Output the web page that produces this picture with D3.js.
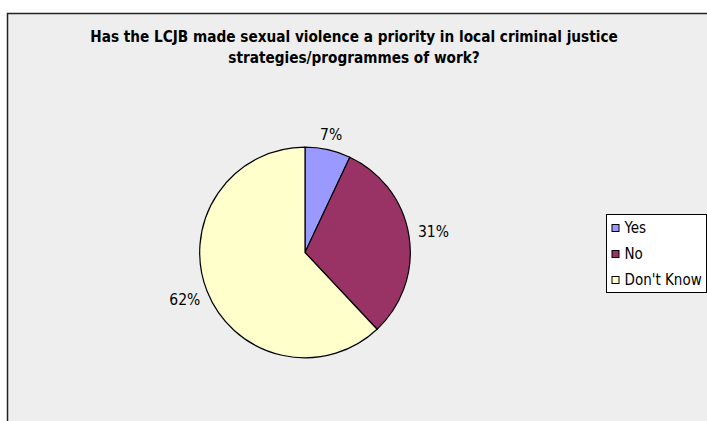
<!DOCTYPE html>
<html>
<head>
<meta charset="utf-8">
<script src="https://cdn.jsdelivr.net/npm/d3@7"></script>
<style>
  html, body { margin: 0; padding: 0; background: #ffffff; }
  svg { display: block; }
  text { font-family: "DejaVu Sans Condensed", "DejaVu Sans", sans-serif; fill: #000; }
</style>
</head>
<body>
<svg id="chart" width="707" height="421"></svg>
<script>
// Survey answers and their shares (percent)
const categories = ["Yes", "No", "Don't Know"];
const shares = [7, 31, 62];
const sliceColors = ["#9999FF", "#993366", "#FFFFCC"];
const titleLines = [
  "Has the LCJB made sexual violence a priority in local criminal justice",
  "strategies/programmes of work?"
];

const W = 707, H = 421;
const svg = d3.select("#chart");

// Chart area with its frame
svg.append("rect")
  .attr("x", 7.5).attr("y", 13.5)
  .attr("width", W + 10).attr("height", H + 10)
  .attr("fill", "#eeeeee")
  .attr("stroke", "#222").attr("stroke-width", 1.5);

// Title
const title = svg.append("text")
  .attr("text-anchor", "middle")
  .attr("font-weight", "bold")
  .attr("font-size", 15.2);
titleLines.forEach((line, i) => {
  title.append("tspan")
    .attr("x", 354)
    .attr("y", 41.5 + i * 21)
    .text(line);
});

// Pie
const cx = 305, cy = 252.5, R = 105.3;
const pie = d3.pie().sort(null).value(d => d.value);
const arcs = pie(categories.map((c, i) => ({ name: c, value: shares[i], color: sliceColors[i] })));
const arc = d3.arc().innerRadius(0).outerRadius(R);

const g = svg.append("g").attr("transform", `translate(${cx},${cy})`);
g.selectAll("path.slice")
  .data(arcs)
  .join("path")
  .attr("class", "slice")
  .attr("d", arc)
  .attr("fill", d => d.data.color)
  .attr("stroke", "#000")
  .attr("stroke-width", 1.2)
  .attr("stroke-linejoin", "round");

// Percentage labels just outside each slice
const fmt = d3.format(".0%");
const gap = 9;
const labels = g.selectAll("text.pct")
  .data(arcs)
  .join("text")
  .attr("class", "pct")
  .attr("font-size", 15.5)
  .attr("text-anchor", "middle")
  .attr("dominant-baseline", "central")
  .text(d => fmt(d.data.value / 100));

labels.each(function(d) {
  const bb = this.getBBox();
  const hw = bb.width / 2, hh = 5.5;
  const a = (d.startAngle + d.endAngle) / 2;
  const sx = Math.sin(a), sy = -Math.cos(a);
  const reach = Math.min(Math.abs(sx) > 1e-6 ? hw / Math.abs(sx) : Infinity,
                         Math.abs(sy) > 1e-6 ? hh / Math.abs(sy) : Infinity);
  const dist = R + gap + reach;
  d3.select(this).attr("x", sx * dist).attr("y", sy * dist);
});

// Legend
const lx = 606.5, ly = 214.5, lw = 100, lh = 78;
const legend = svg.append("g");
legend.append("rect")
  .attr("x", lx).attr("y", ly)
  .attr("width", lw).attr("height", lh)
  .attr("fill", "#ffffff")
  .attr("stroke", "#000").attr("stroke-width", 1);

const rowY = d3.scalePoint().domain(categories).range([ly + 13.5, ly + 65.5]);
const items = legend.selectAll("g.item")
  .data(categories.map((c, i) => ({ name: c, color: sliceColors[i] })))
  .join("g")
  .attr("class", "item")
  .attr("transform", d => `translate(${lx + 5},${rowY(d.name)})`);
items.append("rect")
  .attr("x", 0.5).attr("y", -3.5)
  .attr("width", 7).attr("height", 7)
  .attr("fill", d => d.color)
  .attr("stroke", "#000").attr("stroke-width", 1);
items.append("text")
  .attr("x", 13)
  .attr("dominant-baseline", "central")
  .attr("font-size", 15)
  .text(d => d.name);
</script>
</body>
</html>
